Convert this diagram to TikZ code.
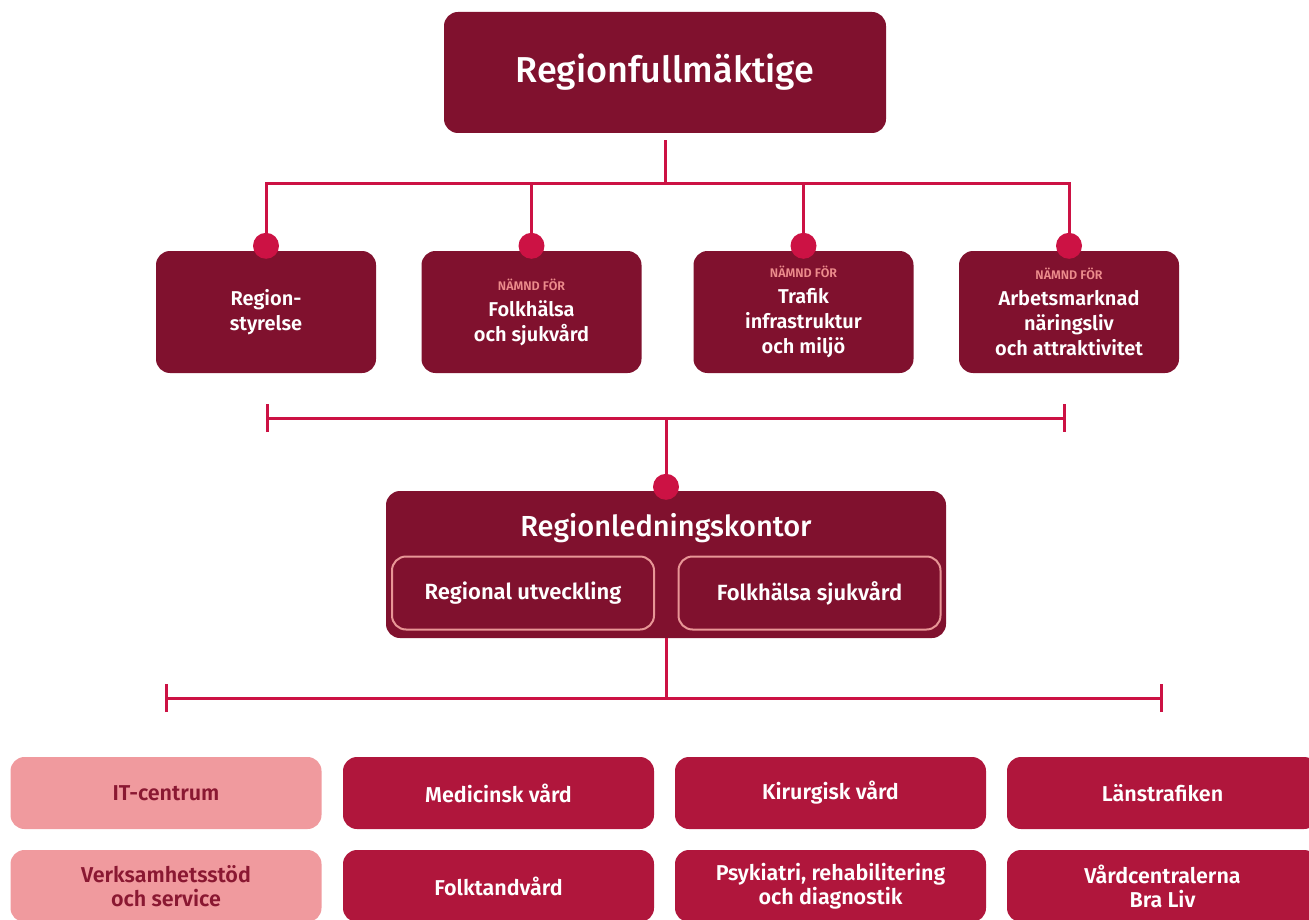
\documentclass[tikz,border=0pt]{standalone}
\usepackage{fontspec}
\setmainfont{Fira Sans}[BoldFont={Fira Sans SemiBold}]
\newfontface\medfont{Fira Sans Medium}
\usetikzlibrary{arrows.meta,calc}
\definecolor{boxdark}{RGB}{128,17,46}
\definecolor{linered}{RGB}{204,18,68}
\definecolor{boxred}{RGB}{176,22,60}
\definecolor{boxpink}{RGB}{240,154,158}
\definecolor{textpink}{RGB}{138,24,50}
\definecolor{rimpink}{RGB}{232,150,150}
\definecolor{smallpink}{RGB}{236,140,140}

\newcommand{\namnd}{\textcolor{smallpink}{\fontsize{12.5}{14}\selectfont NÄMND FÖR}\\[1pt]}

\begin{document}
\begin{tikzpicture}[x=1pt,y=-1pt,
    board/.style={fill=boxdark, rounded corners=14pt, text=white, align=center, inner sep=0pt},
    council/.style={board, minimum width=220pt, minimum height=122pt, font=\fontsize{20}{25}\selectfont\bfseries},
    unit/.style={fill=boxred, rounded corners=14pt, text=white, align=center, inner sep=0pt,
        minimum width=311pt, minimum height=72pt, font=\fontsize{21.5}{24}\selectfont\bfseries},
    support/.style={unit, fill=boxpink, text=textpink},
    office/.style={draw=rimpink, line width=2pt, rounded corners=14pt, text=white, inner sep=0pt,
        minimum width=262pt, minimum height=73pt, font=\fontsize{22}{25}\selectfont\bfseries},
    link/.style={draw=linered, line width=3pt},
    dot/.style={circle, fill=linered, minimum size=26pt, inner sep=0pt},
    tick/.style={link, {Bar[width=28pt]}-{Bar[width=28pt]}}]
    \useasboundingbox (0,0) rectangle (1309,920);
    \clip (0,0) rectangle (1309,920);

    % top
    \node[board, minimum width=442pt, minimum height=121pt, font=\fontsize{36}{40}\selectfont\medfont] (rf) at (665,72.5) {Regionfullmäktige};

    % boards
    \node[council] (rs) at (266,312) {Region-\\styrelse};
    \node[council] (fs) at (531.5,312) {\namnd Folkhälsa\\och sjukvård};
    \node[council] (ti) at (803.5,312) {\namnd Trafik\\infrastruktur\\och miljö};
    \node[council] (an) at (1069,312) {\namnd Arbetsmarknad\\näringsliv\\och attraktivitet};
    \foreach \b/\d in {rs/d1, fs/d2, ti/d3, an/d4}
        \node[dot] (\d) at ([yshift=5pt]\b.north) {};

    \coordinate (bus) at (rf.south |- 0,184);
    \draw[link] ([yshift=-7pt]rf.south) -- (bus);
    \draw[link] (d1) -- (d1 |- bus) -- (d4 |- bus) -- (d4);
    \draw[link] (d2) -- (d2 |- bus);
    \draw[link] (d3) -- (d3 |- bus);

    % office
    \node[board, minimum width=560pt, minimum height=147pt] (rl) at (666,564.5) {};
    \node[text=white, font=\fontsize{29}{32}\selectfont\medfont] (rlt) at (666,528) {Regionledningskontor};
    \node[office] (ru) at (523,593) {Regional utveckling};
    \node[office] (rh) at (809.5,593) {Folkhälsa sjukvård};
    \node[dot] (d5) at ([yshift=4pt]rl.north) {};

    \coordinate (br1l) at (266,418);
    \coordinate (br1r) at (1066,418);
    \draw[tick] (br1l) -- (br1r);
    \draw[link] ($(br1l)!0.5!(br1r)$) -- (d5);

    % units
    \node[support] (it) at (166,793) {IT-centrum};
    \node[support] (vs) at (166,886) {Verksamhetsstöd\\och service};
    \node[unit] (mv) at (498.5,793) {Medicinsk vård};
    \node[unit] (ft) at (498.5,886) {Folktandvård};
    \node[unit] (kv) at (830.5,793) {Kirurgisk vård};
    \node[unit] (pr) at (830.5,886) {Psykiatri, rehabilitering\\och diagnostik};
    \node[unit] (lt) at (1162.5,793) {Länstrafiken};
    \node[unit] (vc) at (1162.5,886) {Vårdcentralerna\\Bra Liv};

    \coordinate (br2l) at (165,698);
    \coordinate (br2r) at (1163,698);
    \draw[tick] (br2l) -- (br2r);
    \draw[link] (rl.south) -- (rl.south |- br2l);
\end{tikzpicture}
\end{document}
